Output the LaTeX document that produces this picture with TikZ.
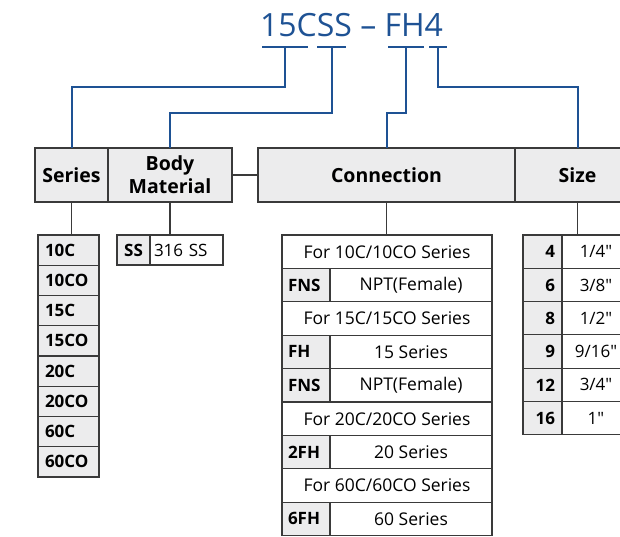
\documentclass[tikz,border=0pt]{standalone}
\usepackage{fontspec}
\setmainfont{Open Sans}[Ligatures=TeXOff]
\usetikzlibrary{positioning,calc}
\definecolor{codeBlue}{RGB}{30,82,148}
\definecolor{hdrGrey}{RGB}{236,236,237}
\definecolor{ruleGrey}{RGB}{58,58,58}

\begin{document}
\begin{tikzpicture}[x=1pt,y=-1pt,
  box/.style={draw=ruleGrey,line width=1.1pt,outer sep=0pt,inner sep=0pt,anchor=north west},
  hdr/.style={box,fill=hdrGrey,minimum height=54pt,align=center,font=\fontsize{19.5}{23}\selectfont\bfseries},
  serrow/.style={box,fill=hdrGrey,minimum width=61pt,minimum height=30.25pt,text width=47pt,inner xsep=7pt,align=left,font=\fontsize{17}{19}\selectfont\bfseries},
  matcode/.style={box,fill=hdrGrey,minimum width=33pt,minimum height=30pt,font=\fontsize{17}{19}\selectfont\bfseries},
  matval/.style={box,fill=white,minimum width=73pt,minimum height=30pt,text width=65pt,inner xsep=4pt,align=left,font=\fontsize{17}{19}\selectfont},
  forrow/.style={box,fill=white,minimum width=210pt,minimum height=33.4pt,font=\fontsize{17.5}{19}\selectfont},
  concode/.style={box,fill=hdrGrey,minimum width=48pt,minimum height=33.4pt,text width=36pt,inner xsep=6pt,align=left,font=\fontsize{17}{19}\selectfont\bfseries},
  condesc/.style={box,fill=white,minimum width=162pt,minimum height=33.4pt,font=\fontsize{17.5}{19}\selectfont},
  sizecode/.style={box,fill=hdrGrey,minimum width=39pt,minimum height=33.3pt,text width=25pt,inner xsep=7pt,align=right,font=\fontsize{17}{19}\selectfont\bfseries},
  sizeval/.style={box,fill=white,minimum width=68pt,minimum height=33.3pt,font=\fontsize{17}{19}\selectfont},
  title/.style={text=codeBlue,inner sep=0pt,font=\fontsize{32}{36}\selectfont},
  bar/.style={draw=codeBlue,line width=2.3pt},
  wire/.style={draw=codeBlue,line width=2pt},
  link/.style={draw=ruleGrey,line width=1.2pt}
]
  \useasboundingbox (0,0) rectangle (620,536);
  \clip (0,0) rectangle (620,536);

  \node[title] (code) at (351.5,25) {15CSS – FH4};
  \coordinate (bSer) at (285,47);
  \coordinate (bMat) at (331.5,47);
  \coordinate (bCon) at (406,47);
  \coordinate (bSize) at (438,47);
  \draw[bar] (262,47) -- (308,47);
  \draw[bar] (317,47) -- (346,47);
  \draw[bar] (388,47) -- (424,47);
  \draw[bar] (429,47) -- (447,47);

  \node[hdr,minimum width=73pt] (series) at (35,148) {Series};
  \node[hdr,minimum width=124pt,right=0pt of series] (body) {Body\\Material};
  \node[hdr,minimum width=257pt] (conn) at (258,148) {Connection};
  \node[hdr,minimum width=125pt,right=0pt of conn] (size) {Size};

  \draw[wire] (bSer) -- ++(0,40) -| (series);
  \draw[wire] (bMat) -- ++(0,66) -| (body);
  \draw[wire] (bCon) -- ++(0,66) -| (conn);
  \draw[wire] (bSize) -- ++(0,40) -| (size);

  \node[serrow] (s10c) at (38,235) {10C};
  \node[serrow,below=0pt of s10c] (s10co) {10CO};
  \node[serrow,below=0pt of s10co] (s15c) {15C};
  \node[serrow,below=0pt of s15c] (s15co) {15CO};
  \node[serrow,below=0pt of s15co] (s20c) {20C};
  \node[serrow,below=0pt of s20c] (s20co) {20CO};
  \node[serrow,below=0pt of s20co] (s60c) {60C};
  \node[serrow,below=0pt of s60c] (s60co) {60CO};

  \node[matcode] (ss) at (117,235) {SS};
  \node[matval,right=0pt of ss] (ss316) {316 SS};

  \node[forrow] (for10) at (282,235) {For 10C/10CO Series};
  \node[concode,below right=0pt of for10.south west] (fns1) {FNS};
  \node[condesc,right=0pt of fns1] (npt1) {NPT(Female)};
  \node[forrow,below right=0pt of fns1.south west] (for15) {For 15C/15CO Series};
  \node[concode,below right=0pt of for15.south west] (fh) {FH};
  \node[condesc,right=0pt of fh] (fh15) {15 Series};
  \node[concode,below right=0pt of fh.south west] (fns2) {FNS};
  \node[condesc,right=0pt of fns2] (npt2) {NPT(Female)};
  \node[forrow,below right=0pt of fns2.south west] (for20) {For 20C/20CO Series};
  \node[concode,below right=0pt of for20.south west] (fh2) {2FH};
  \node[condesc,right=0pt of fh2] (fh20) {20 Series};
  \node[forrow,below right=0pt of fh2.south west] (for60) {For 60C/60CO Series};
  \node[concode,below right=0pt of for60.south west] (fh6) {6FH};
  \node[condesc,right=0pt of fh6] (fh60) {60 Series};

  \node[sizecode] (z4) at (523,235) {4};
  \node[sizeval,right=0pt of z4] (v4) {1/4"};
  \node[sizecode,below=0pt of z4] (z6) {6};
  \node[sizeval,right=0pt of z6] (v6) {3/8"};
  \node[sizecode,below=0pt of z6] (z8) {8};
  \node[sizeval,right=0pt of z8] (v8) {1/2"};
  \node[sizecode,below=0pt of z8] (z9) {9};
  \node[sizeval,right=0pt of z9] (v9) {9/16"};
  \node[sizecode,below=0pt of z9] (z12) {12};
  \node[sizeval,right=0pt of z12] (v12) {3/4"};
  \node[sizecode,below=0pt of z12] (z16) {16};
  \node[sizeval,right=0pt of z16] (v16) {1"};

  \draw[link] (series.south) -- (series.south |- s10c.north);
  \draw[link] (body.south) -- (body.south |- ss.north);
  \draw[link] (conn.south) -- (conn.south |- for10.north);
  \draw[link] (size.south) -- (size.south |- z4.north);
  \draw[link] (body) -- (conn);
\end{tikzpicture}
\end{document}
